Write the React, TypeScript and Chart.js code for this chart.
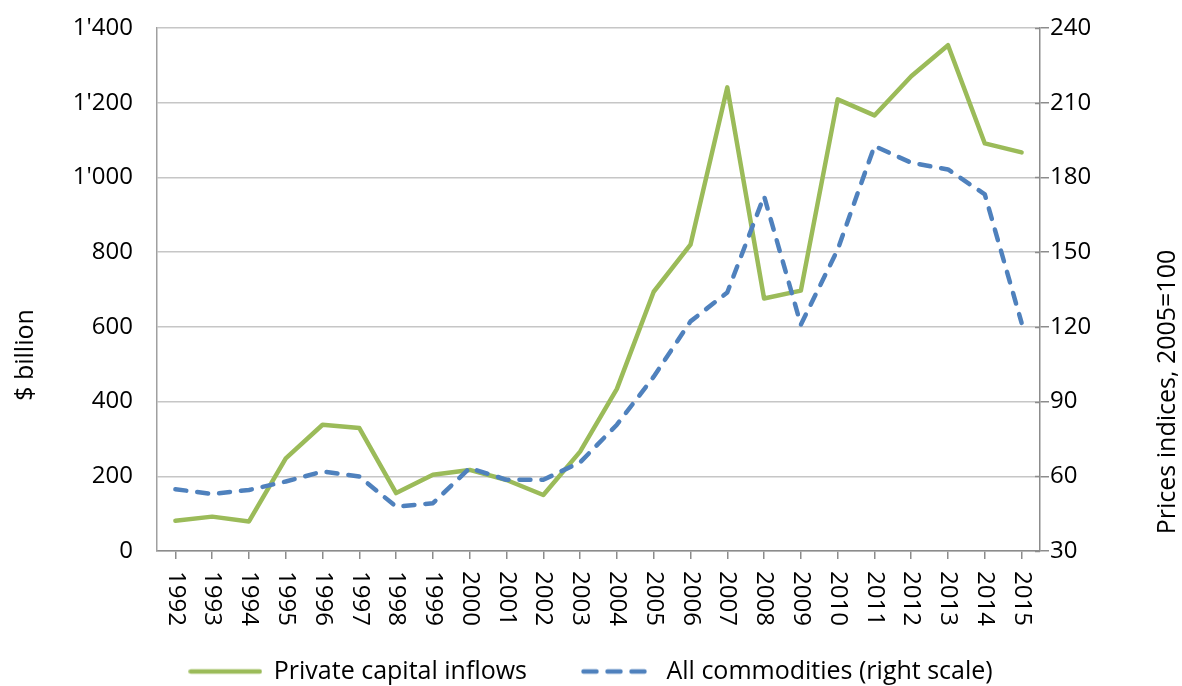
import React, { useEffect, useRef } from "react";
import { Chart, registerables } from "chart.js";

Chart.register(...registerables);

const YEARS = [
  "1992", "1993", "1994", "1995", "1996", "1997", "1998", "1999", "2000", "2001", "2002", "2003",
  "2004", "2005", "2006", "2007", "2008", "2009", "2010", "2011", "2012", "2013", "2014", "2015",
];

const PRIVATE_CAPITAL_INFLOWS = [
  81, 92, 79, 248, 338, 329, 155, 204, 217, 190, 150, 266,
  434, 694, 820, 1241, 676, 697, 1209, 1166, 1271, 1354, 1091, 1067,
];

const ALL_COMMODITIES = [
  54.8, 52.9, 54.5, 57.9, 61.9, 59.9, 47.8, 49.2, 63.3, 58.6, 58.6, 65.6,
  80.7, 100, 122.2, 133.8, 172.5, 120.9, 151, 192.6, 185.9, 183.2, 173.2, 121.6,
];

const LEFT_TITLE = "$ billion";
const RIGHT_TITLE = "Prices indices, 2005=100";
const SERIES_LABELS = ["Private capital inflows", "All commodities (right scale)"];

const GREEN = "#9BBB59";
const BLUE = "#4F81BD";
const FONT = "'Open Sans', sans-serif";
const W = 1182;
const H = 686;

function fmtThousands(v: number): string {
  if (v >= 1000) {
    const th = Math.floor(v / 1000);
    const rest = String(v % 1000).padStart(3, "0");
    return `${th}'${rest}`;
  }
  return String(v);
}

function legendSymbol(color: string, dash: number[]): HTMLCanvasElement {
  const c = document.createElement("canvas");
  c.width = 74;
  c.height = 10;
  const ctx = c.getContext("2d")!;
  ctx.strokeStyle = color;
  ctx.lineWidth = 4.5;
  ctx.lineCap = "round";
  ctx.setLineDash(dash);
  ctx.beginPath();
  ctx.moveTo(2.5, 5);
  ctx.lineTo(dash.length ? 66 : 71.5, 5);
  ctx.stroke();
  return c;
}

const textPlugin = {
  id: "customText",
  afterDraw(chart: any) {
    const ctx = chart.ctx as CanvasRenderingContext2D;
    const xs = chart.scales.x;
    ctx.save();
    ctx.fillStyle = "#000";
    ctx.font = `24px ${FONT}`;
    ctx.textAlign = "left";
    ctx.textBaseline = "middle";
    YEARS.forEach((lab, i) => {
      const px = xs.getPixelForTick(i);
      ctx.save();
      ctx.translate(px, xs.top + 20);
      ctx.rotate(Math.PI / 2);
      ctx.fillText(lab, 0, 0);
      ctx.restore();
    });
    // small inner tick marks on the right axis (cross style)
    const y1 = chart.scales.y1;
    ctx.strokeStyle = "#8C8C8C";
    ctx.lineWidth = 1.5;
    y1.ticks.forEach((_t: any, i: number) => {
      const py = Math.round(y1.getPixelForTick(i)) + 0.5;
      ctx.beginPath();
      ctx.moveTo(y1.left - 5, py);
      ctx.lineTo(y1.left, py);
      ctx.stroke();
    });
    ctx.font = `25px ${FONT}`;
    ctx.textAlign = "center";
    ctx.save();
    ctx.translate(26, 355);
    ctx.rotate(-Math.PI / 2);
    ctx.fillText(LEFT_TITLE, 0, 0);
    ctx.restore();
    ctx.save();
    ctx.translate(1168, 392);
    ctx.rotate(-Math.PI / 2);
    ctx.fillText(RIGHT_TITLE, 0, 0);
    ctx.restore();
    ctx.restore();
  },
};

export default function App() {
  const ref = useRef<HTMLCanvasElement | null>(null);

  useEffect(() => {
    document.body.style.margin = "0";
    const canvas = ref.current;
    if (!canvas) return;
    const greenSym = legendSymbol(GREEN, []);
    const blueSym = legendSymbol(BLUE, [13, 11]);
    const chart = new Chart(canvas, {
      type: "line",
      data: {
        labels: YEARS,
        datasets: [
          {
            label: SERIES_LABELS[0],
            data: PRIVATE_CAPITAL_INFLOWS,
            borderColor: GREEN,
            backgroundColor: GREEN,
            borderWidth: 4.5,
            pointRadius: 0,
            pointStyle: greenSym as any,
            tension: 0,
            borderCapStyle: "round",
            borderJoinStyle: "round",
            yAxisID: "y",
            order: 1,
          },
          {
            label: SERIES_LABELS[1],
            data: ALL_COMMODITIES,
            borderColor: BLUE,
            backgroundColor: BLUE,
            borderWidth: 4.5,
            borderDash: [11, 11],
            borderCapStyle: "round",
            borderJoinStyle: "round",
            pointRadius: 0,
            pointStyle: blueSym as any,
            tension: 0,
            yAxisID: "y1",
            order: 0,
          },
        ],
      },
      options: {
        responsive: false,
        animation: false,
        layout: { padding: { top: 28, left: 0, right: 0, bottom: 0 } },
        plugins: {
          tooltip: { enabled: false },
          legend: {
            position: "bottom",
            maxHeight: 82,
            labels: {
              usePointStyle: true,
              pointStyleWidth: 72,
              padding: 55,
              color: "#000",
              font: { family: FONT, size: 25 },
              sort: (a: any, b: any) => a.datasetIndex - b.datasetIndex,
            },
          },
        },
        scales: {
          x: {
            type: "category",
            offset: true,
            grid: {
              display: true,
              drawOnChartArea: false,
              drawTicks: true,
              tickLength: 8,
              color: "#8C8C8C",
              lineWidth: 1.5,
            },
            border: { display: true, color: "#8C8C8C", width: 1.5 },
            ticks: { display: false },
            afterFit: (s: any) => {
              const lh = s.chart.legend ? s.chart.legend.height : 0;
              s.height = H - 551 - lh;
            },
          },
          y: {
            position: "left",
            min: 0,
            max: 1400,
            ticks: {
              stepSize: 200,
              padding: 10,
              color: "#000",
              font: { family: FONT, size: 24 },
              callback: (v: any) => fmtThousands(Number(v)),
            },
            grid: {
              color: "#C6C6C6",
              lineWidth: 1.5,
              drawTicks: true,
              tickLength: 14,
              tickColor: "rgba(0,0,0,0)",
            },
            border: { display: true, color: "#A0A0A0", width: 1.5 },
            afterFit: (s: any) => {
              s.width = 157;
            },
          },
          y1: {
            position: "right",
            min: 30,
            max: 240,
            ticks: {
              stepSize: 30,
              padding: 1,
              color: "#000",
              font: { family: FONT, size: 24 },
            },
            grid: {
              drawOnChartArea: false,
              drawTicks: true,
              tickLength: 9,
              color: "#8C8C8C",
              lineWidth: 1.5,
            },
            border: { display: true, color: "#8C8C8C", width: 1.5 },
            afterFit: (s: any) => {
              s.width = W - 1040;
            },
          },
        },
      },
      plugins: [textPlugin],
    });
    return () => chart.destroy();
  }, []);

  return (
    <div style={{ width: W, height: H, background: "#fff" }}>
      <canvas ref={ref} width={W} height={H} style={{ display: "block" }} />
    </div>
  );
}
